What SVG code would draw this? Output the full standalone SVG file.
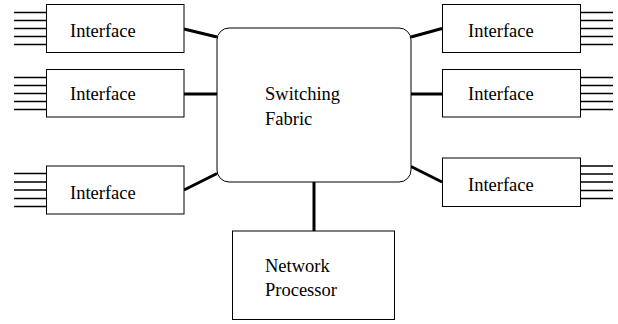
<svg xmlns="http://www.w3.org/2000/svg" width="618" height="324" viewBox="0 0 618 324">
<style>
.box{fill:#fff;stroke:#000;stroke-width:1}
.pin{stroke:#000;stroke-width:1.3}
.conn{stroke:#000;stroke-width:3;fill:none}
.t{font-family:'Liberation Serif','Times New Roman',Tinos,'Nimbus Roman','Nimbus Roman No9 L',FreeSerif,'DejaVu Serif',serif;font-size:18.5px;fill:#000}
</style>
<rect width="618" height="324" fill="#fff"/>
<g id="connectors">
<line class="conn" x1="184" y1="29" x2="217" y2="37"/>
<line class="conn" x1="184" y1="94" x2="217" y2="94"/>
<line class="conn" x1="184" y1="190" x2="217" y2="173.5"/>
<line class="conn" x1="411" y1="37" x2="442" y2="28.5"/>
<line class="conn" x1="411" y1="94" x2="442" y2="94"/>
<line class="conn" x1="411" y1="166.5" x2="442" y2="182"/>
<line class="conn" x1="314" y1="182" x2="314" y2="231"/>
</g>
<g id="fabric">
<rect class="box" x="217" y="28" width="194" height="154" rx="12"/>
<text class="t" x="265" y="100">Switching</text>
<text class="t" x="265" y="125">Fabric</text>
</g>
<g id="if-left-1">
<path class="pin" d="M14 12.5H46M14 20.5H46M14 28.5H46M14 36.5H46M14 44.5H46"/>
<rect class="box" x="46.5" y="4.5" width="137.5" height="48"/>
<text class="t" x="70" y="37">Interface</text>
</g>
<g id="if-left-2">
<path class="pin" d="M14 77.5H46M14 85.5H46M14 93.5H46M14 101.5H46M14 109.5H46"/>
<rect class="box" x="46.5" y="69.5" width="137.5" height="47.5"/>
<text class="t" x="70" y="100">Interface</text>
</g>
<g id="if-left-3">
<path class="pin" d="M14 173.5H46M14 182H46M14 190H46M14 198.5H46M14 206.5H46"/>
<rect class="box" x="46.5" y="166" width="137.5" height="48"/>
<text class="t" x="70" y="198.5">Interface</text>
</g>
<g id="if-right-1">
<path class="pin" d="M581 12.5H613M581 20.5H613M581 28.5H613M581 36.5H613M581 44.5H613"/>
<rect class="box" x="442.5" y="4.5" width="138" height="48"/>
<text class="t" x="468" y="37">Interface</text>
</g>
<g id="if-right-2">
<path class="pin" d="M581 77.5H613M581 85.5H613M581 93.5H613M581 101.5H613M581 109.5H613"/>
<rect class="box" x="442.5" y="69.5" width="138" height="47.5"/>
<text class="t" x="468" y="100">Interface</text>
</g>
<g id="if-right-3">
<path class="pin" d="M581 166H613M581 174H613M581 182H613M581 190.5H613M581 198.5H613"/>
<rect class="box" x="442.5" y="158" width="138" height="48.5"/>
<text class="t" x="468" y="191">Interface</text>
</g>
<g id="np">
<rect class="box" x="232.5" y="231" width="162" height="88.5"/>
<text class="t" x="265" y="272">Network</text>
<text class="t" x="265" y="296">Processor</text>
</g>
</svg>
